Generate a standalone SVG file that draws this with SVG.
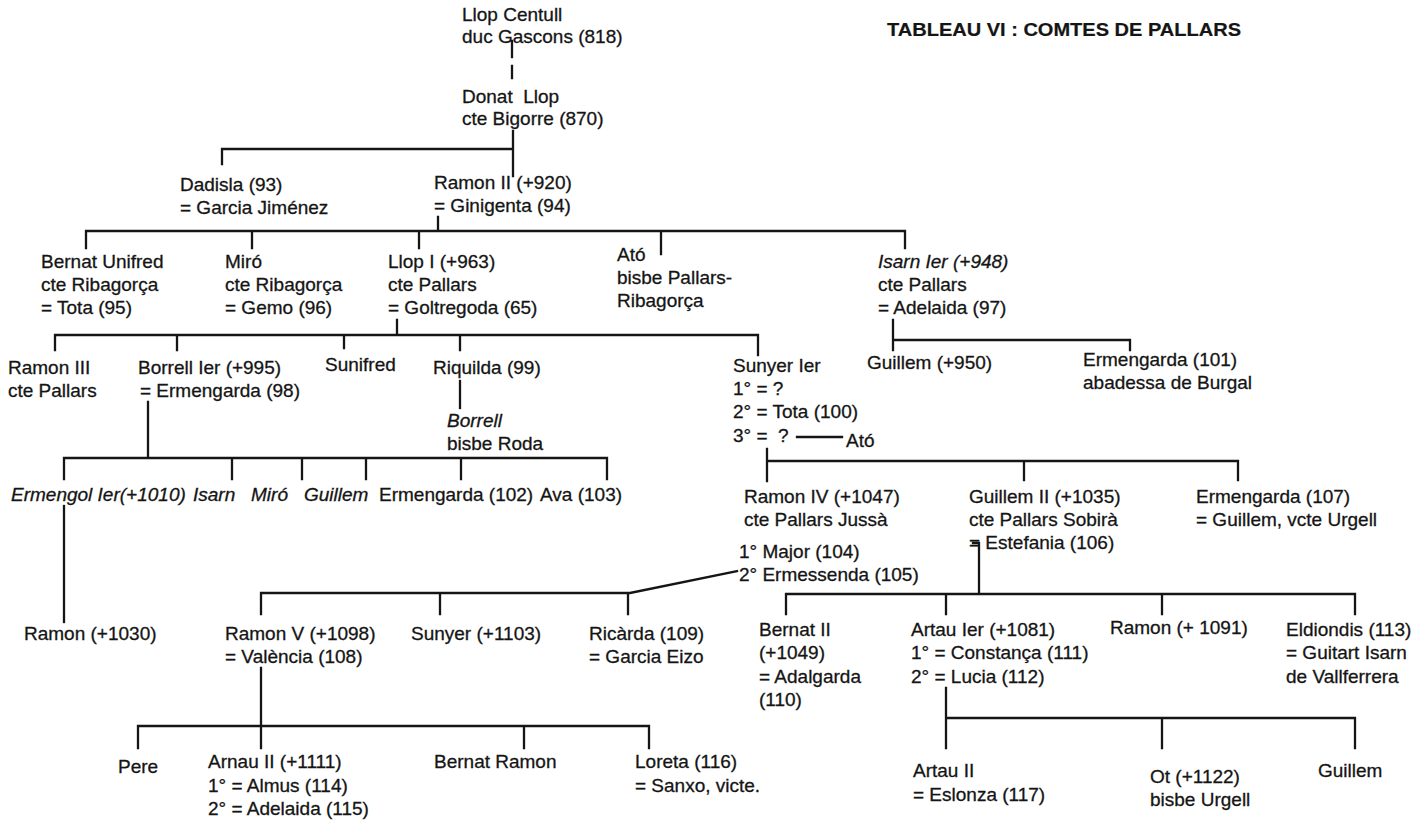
<svg xmlns="http://www.w3.org/2000/svg" width="1423" height="822" viewBox="0 0 1423 822">
<style>
text{font-family:"Liberation Sans",Arial,Helvetica,sans-serif;font-size:19px;fill:#151515;stroke:#151515;stroke-width:0.3}
.i{font-style:italic}
.title{font-weight:bold;font-size:19px;stroke-width:0.2}
.ln{stroke:#151515;stroke-width:2.3;fill:none;stroke-linecap:square}
</style>
<rect width="1423" height="822" fill="#ffffff"/>
<g id="title"><text class="title" x="887" y="36" textLength="354" lengthAdjust="spacingAndGlyphs">TABLEAU VI : COMTES DE PALLARS</text></g>

<g id="connectors" class="ln">
<path d="M512 41V57M512 66V78"/>
<path d="M513 131V176M222 149H513M222 149V164"/>
<path d="M438 217V231M86 231H905M86 231V248M252 231V248M419 231V248M661 231V254M905 231V248"/>
<path d="M397 320V335M55 335H758M55 335V350M177 335V350M344 335V348M460 335V350M758 335V355"/>
<path d="M893 320V350M893 340H1130V350"/>
<path d="M460 381V408"/>
<path d="M797 437H842"/>
<path d="M148 402V458M64 458H607M64 458V479M232 458V479M302 458V479M366 458V479M461 458V479M607 458V479"/>
<path d="M64 506V622"/>
<path d="M767 449V481M767 461H1238M1024 461V480M1238 461V480"/>
<path d="M737 571L630 593H261M261 593V614M440 593V614M628 593V614"/>
<path d="M973 543H979V594M786 594H1355M786 594V614M946 594V614M1162 594V614M1355 594V614"/>
<path d="M261 668V726M138 726H649M138 726V748M261 726V748M524 726V748M649 726V748"/>
<path d="M946 688V718H1355M946 718V748M1162 718V748M1355 718V748"/>
</g>

<g id="llop_centull"><text x="462" y="21">Llop Centull</text><text x="462" y="43">duc Gascons (818)</text></g>
<g id="donat_llop"><text x="462" y="103" xml:space="preserve">Donat  Llop</text><text x="462" y="125">cte Bigorre (870)</text></g>
<g id="dadisla"><text x="180" y="191">Dadisla (93)</text><text x="180" y="214">= Garcia Jiménez</text></g>
<g id="ramon_ii"><text x="434" y="189">Ramon II (+920)</text><text x="434" y="212">= Ginigenta (94)</text></g>

<g id="bernat_unifred"><text x="41" y="268">Bernat Unifred</text><text x="41" y="291">cte Ribagorça</text><text x="41" y="314">= Tota (95)</text></g>
<g id="miro_1"><text x="225" y="268">Miró</text><text x="225" y="291">cte Ribagorça</text><text x="225" y="314">= Gemo (96)</text></g>
<g id="llop_i"><text x="388" y="268">Llop I (+963)</text><text x="388" y="291">cte Pallars</text><text x="388" y="314">= Goltregoda (65)</text></g>
<g id="ato_1"><text x="617" y="261">Ató</text><text x="617" y="284">bisbe Pallars-</text><text x="617" y="307">Ribagorça</text></g>
<g id="isarn_i"><text class="i" x="878" y="268">Isarn Ier (+948)</text><text x="878" y="291">cte Pallars</text><text x="878" y="314">= Adelaida (97)</text></g>

<g id="ramon_iii"><text x="8" y="374">Ramon III</text><text x="8" y="397">cte Pallars</text></g>
<g id="borrell_i"><text x="138" y="374">Borrell Ier (+995)</text><text x="140" y="397">= Ermengarda (98)</text></g>
<g id="sunifred"><text x="325" y="371">Sunifred</text></g>
<g id="riquilda"><text x="433" y="374">Riquilda (99)</text></g>
<g id="borrell_bisbe"><text class="i" x="447" y="427">Borrell</text><text x="447" y="450">bisbe Roda</text></g>
<g id="sunyer_i"><text x="733" y="372">Sunyer Ier</text><text x="733" y="395">1° = ?</text><text x="733" y="418">2° = Tota (100)</text><text x="733" y="442" xml:space="preserve">3° =  ?</text><text x="846" y="447">Ató</text></g>
<g id="guillem_950"><text x="867" y="369">Guillem (+950)</text></g>
<g id="ermengarda_101"><text x="1083" y="366">Ermengarda (101)</text><text x="1083" y="389">abadessa de Burgal</text></g>

<g id="ermengol_i"><text class="i" x="11" y="501">Ermengol Ier(+1010)</text></g>
<g id="isarn_2"><text class="i" x="193" y="501">Isarn</text></g>
<g id="miro_2"><text class="i" x="251" y="501">Miró</text></g>
<g id="guillem_2"><text class="i" x="304" y="501">Guillem</text></g>
<g id="ermengarda_102"><text x="379" y="501">Ermengarda (102)</text></g>
<g id="ava"><text x="540" y="501">Ava (103)</text></g>

<g id="ramon_iv"><text x="744" y="503">Ramon IV (+1047)</text><text x="744" y="526">cte Pallars Jussà</text><text x="739" y="558">1° Major (104)</text><text x="739" y="581">2° Ermessenda (105)</text></g>
<g id="guillem_ii"><text x="969" y="503">Guillem II (+1035)</text><text x="969" y="526">cte Pallars Sobirà</text><text x="969" y="549">= Estefania (106)</text></g>
<g id="ermengarda_107"><text x="1196" y="503">Ermengarda (107)</text><text x="1196" y="526">= Guillem, vcte Urgell</text></g>

<g id="ramon_1030"><text x="24" y="640">Ramon (+1030)</text></g>
<g id="ramon_v"><text x="225" y="640">Ramon V (+1098)</text><text x="225" y="663">= València (108)</text></g>
<g id="sunyer_1103"><text x="411" y="640">Sunyer (+1103)</text></g>
<g id="ricarda"><text x="589" y="640">Ricàrda (109)</text><text x="589" y="663">= Garcia Eizo</text></g>
<g id="bernat_ii"><text x="759" y="636">Bernat II</text><text x="759" y="659">(+1049)</text><text x="759" y="683">= Adalgarda</text><text x="759" y="706">(110)</text></g>
<g id="artau_i"><text x="911" y="636">Artau Ier (+1081)</text><text x="911" y="659">1° = Constança (111)</text><text x="911" y="683">2° = Lucia (112)</text></g>
<g id="ramon_1091"><text x="1110" y="634">Ramon (+ 1091)</text></g>
<g id="eldiondis"><text x="1286" y="636">Eldiondis (113)</text><text x="1286" y="659">= Guitart Isarn</text><text x="1286" y="683">de Vallferrera</text></g>

<g id="pere"><text x="118" y="773">Pere</text></g>
<g id="arnau_ii"><text x="208" y="768">Arnau II (+1111)</text><text x="208" y="792">1° = Almus (114)</text><text x="208" y="815">2° = Adelaida (115)</text></g>
<g id="bernat_ramon"><text x="434" y="768">Bernat Ramon</text></g>
<g id="loreta"><text x="635" y="768">Loreta (116)</text><text x="635" y="792">= Sanxo, victe.</text></g>
<g id="artau_ii"><text x="913" y="777">Artau II</text><text x="913" y="801">= Eslonza (117)</text></g>
<g id="ot"><text x="1150" y="783">Ot (+1122)</text><text x="1150" y="806">bisbe Urgell</text></g>
<g id="guillem_3"><text x="1318" y="777">Guillem</text></g>
</svg>
